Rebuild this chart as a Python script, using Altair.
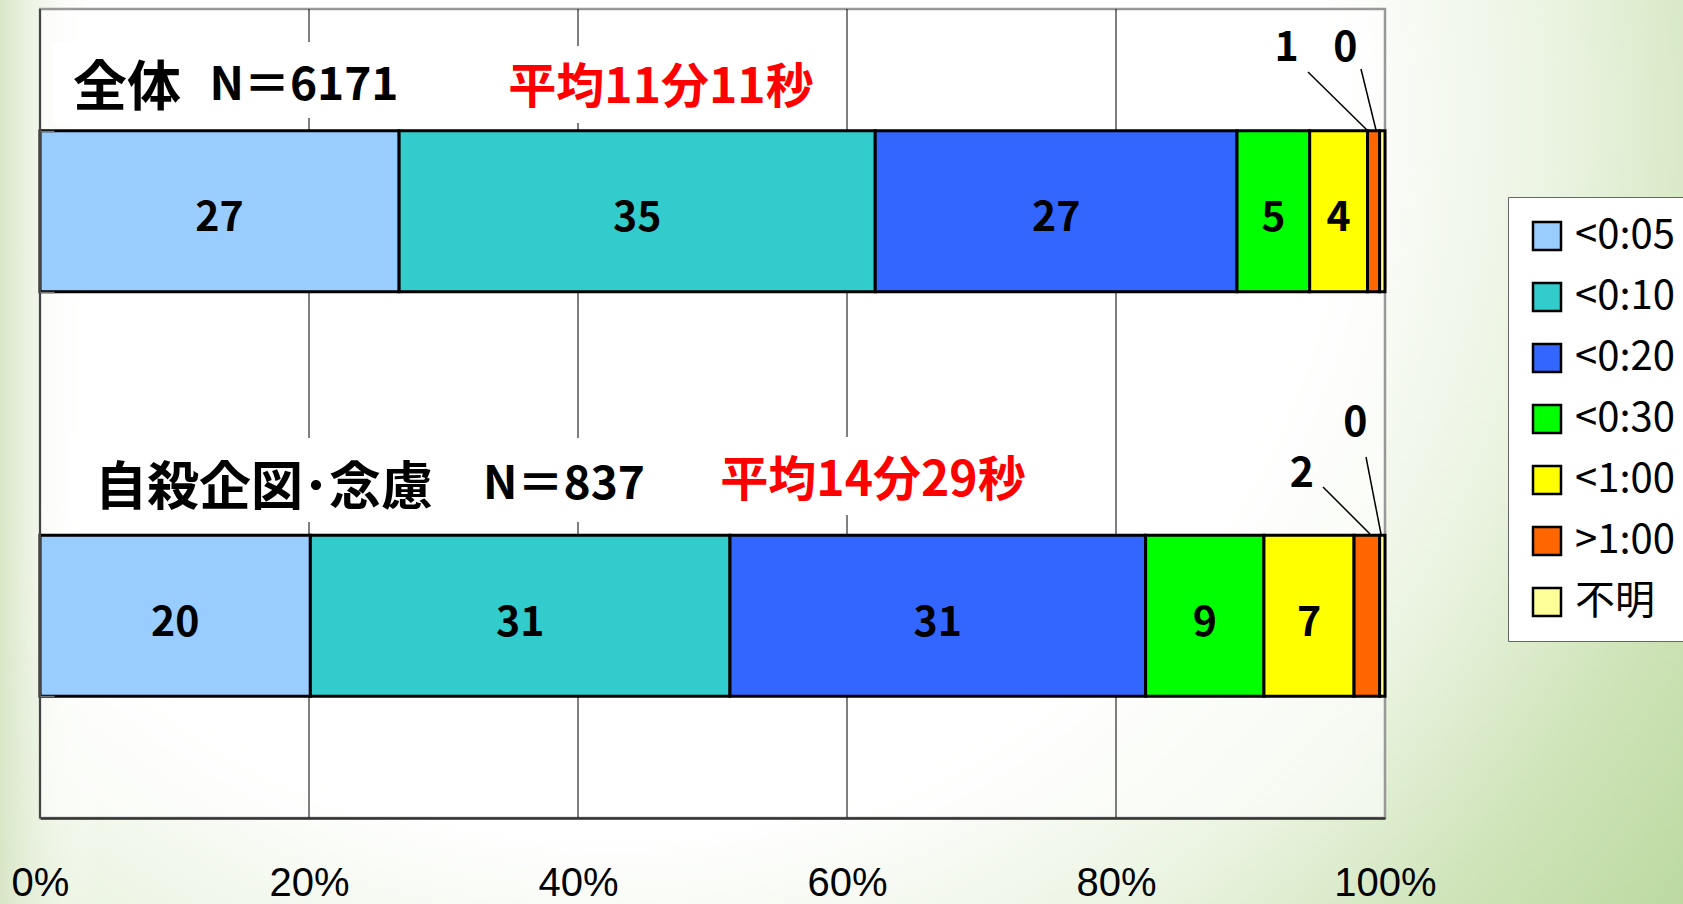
import altair as alt
import pandas as pd

# ---- data -------------------------------------------------------------
groups = ["全体", "自殺企図・念慮"]
sample_sizes = [6171, 837]
mean_times = ["平均11分11秒", "平均14分29秒"]

categories = ["<0:05", "<0:10", "<0:20", "<0:30", "<1:00", ">1:00", "不明"]
colors = ["#99CCFF", "#33CCCC", "#3366FF", "#00FF00", "#FFFF00", "#FF6600", "#FFFF99"]

# percentage share of each time band, per group
share_all = [26.7, 35.4, 26.9, 5.4, 4.3, 0.9, 0.4]
share_suicidal = [20.1, 31.2, 30.9, 8.8, 6.7, 1.9, 0.4]

pct_ticks = [0, 20, 40, 60, 80, 100]
grid_lines = [20, 40, 60, 80]

rows = []
for g, shares in zip(groups, [share_all, share_suicidal]):
    for i, (c, v) in enumerate(zip(categories, shares)):
        rows.append({"group": g, "cat": c, "idx": i, "share": v})
df = pd.DataFrame(rows)
grid_df = pd.DataFrame({"pos": grid_lines})
one = pd.DataFrame({"k": [0]})

# ---- layout -----------------------------------------------------------
W, H = 1345, 809
PAD = {"left": 40, "top": 9, "right": 298, "bottom": 86}
FONT = "Noto Sans CJK JP"
NUM_FONT = "Liberation Sans"

x_scale = alt.Scale(domain=[0, 100], nice=False, zero=True)
y_scale = alt.Scale(domain=groups, paddingInner=0.602, paddingOuter=0.301)

X_AXIS = alt.Axis(
    values=pct_ticks, labelExpr="datum.value + '%'", grid=False, ticks=False,
    tickSize=0, domain=True, domainColor="#333333", domainWidth=2.5,
    labelFont=NUM_FONT, labelFontSize=40, labelColor="black", labelPadding=45,
    labelFlush=False, labelOverlap=False, title=None, zindex=1,
)
Y_AXIS = alt.Axis(
    labels=False, domain=False, ticks=True, tickBand="extent", tickSize=14,
    tickColor="#777777", tickWidth=1.5, offset=-14, grid=False, title=None, zindex=1,
)

# ---- background -------------------------------------------------------
bg = alt.Chart(one).mark_rect(
    fill={
        "gradient": "radial",
        "x1": 0.36, "y1": 0.30, "r1": 0,
        "x2": 0.36, "y2": 0.30, "r2": 0.95,
        "stops": [
            {"offset": 0.0, "color": "#ffffff"},
            {"offset": 0.45, "color": "#ffffff"},
            {"offset": 0.6, "color": "#eaf3e0"},
            {"offset": 0.72, "color": "#cfe4b9"},
            {"offset": 0.88, "color": "#b5d597"},
            {"offset": 1.0, "color": "#a0c77f"},
        ],
    }
).encode(x=alt.value(-40), x2=alt.value(1643), y=alt.value(-9), y2=alt.value(895))

left_strip = alt.Chart(one).mark_rect(
    fill={
        "gradient": "linear", "x1": 0, "y1": 0, "x2": 1, "y2": 0,
        "stops": [
            {"offset": 0.0, "color": "#d8e6c6"},
            {"offset": 1.0, "color": "rgba(255,255,255,0)"},
        ],
    }
).encode(x=alt.value(-40), x2=alt.value(60), y=alt.value(-9), y2=alt.value(895))

plot_area = alt.Chart(one).mark_rect(
    fill="white", fillOpacity=0.6, stroke="#999999", strokeWidth=2.5
).encode(x=alt.value(0), x2=alt.value(W), y=alt.value(0), y2=alt.value(H))

grid = alt.Chart(grid_df).mark_rule(color="black", strokeWidth=1).encode(
    x=alt.X("pos:Q", scale=x_scale, axis=X_AXIS),
    y=alt.value(0), y2=alt.value(H),
)

# white boxes behind the header texts
boxes = [
    (13, 158, 33, 115), (158, 381, 33, 109), (452, 791, 37, 114),
    (30, 620, 429, 513), (660, 1000, 428, 506),
]
box_layers = [
    alt.Chart(one).mark_rect(fill="white").encode(
        x=alt.value(a), x2=alt.value(b), y=alt.value(c), y2=alt.value(d)
    )
    for a, b, c, d in boxes
]

def header(text, x, y, size, color="black"):
    return alt.Chart(one).mark_text(
        text=text, font=FONT, fontSize=size, fontWeight="bold", color=color,
        align="center", baseline="middle",
    ).encode(x=alt.value(x), y=alt.value(y))

headers = [
    header(groups[0], 87, 81, 54),
    header(f"N＝{sample_sizes[0]}", 264, 77, 46),
    header(mean_times[0], 621, 80, 48, "#FF0000"),
    header("自殺企図･念慮", 224, 480, 52),
    header(f"N＝{sample_sizes[1]}", 524, 476, 46),
    header(mean_times[1], 833, 473, 48, "#FF0000"),
]

# ---- stacked bars -----------------------------------------------------
base = alt.Chart(df).transform_stack(
    stack="share", groupby=["group"], as_=["x0", "x1"],
    sort=[alt.SortField("idx", order="ascending")],
).transform_calculate(
    mid="(datum.x0 + datum.x1) / 2",
    lbl="format(datum.share, '.0f')",
)

bars = base.mark_bar(stroke="black", strokeWidth=3).encode(
    x=alt.X("x0:Q", scale=x_scale, axis=X_AXIS),
    x2="x1:Q",
    y=alt.Y("group:N", scale=y_scale, axis=Y_AXIS),
    color=alt.Color(
        "cat:N", title=None,
        scale=alt.Scale(domain=categories, range=colors),
        legend=alt.Legend(
            orient="none", legendX=1468, legendY=188,
            symbolType="square", symbolSize=784, symbolStrokeColor="black",
            symbolStrokeWidth=2.5, symbolOpacity=1,
            labelFont=FONT, labelFontSize=40, labelColor="black", labelLimit=400,
            labelOffset=8, rowPadding=21, padding=19,
            strokeColor="#666666", fillColor="white",
        ),
    ),
    order=alt.Order("idx:Q", sort="ascending"),
)

inside_labels = base.transform_filter("datum.share >= 3").mark_text(
    font=FONT, fontSize=41, fontWeight="bold", color="black",
    align="center", baseline="middle", dy=8,
).encode(
    x=alt.X("mid:Q", scale=x_scale, axis=X_AXIS),
    y=alt.Y("group:N", scale=y_scale, axis=Y_AXIS),
    text="lbl:N",
)

# labels of the thin segments, lifted above the bar
callouts = [
    (groups[0], ">1:00", -87, -162),
    (groups[0], "不明", -37, -162),
    (groups[1], ">1:00", -65, -141),
    (groups[1], "不明", -27, -192),
]
callout_labels = [
    base.transform_filter(
        f"datum.group == '{g}' && datum.cat == '{c}'"
    ).mark_text(
        font=FONT, fontSize=41, fontWeight="bold", color="black",
        align="center", baseline="middle", dx=dx, dy=dy,
    ).encode(
        x=alt.X("mid:Q", scale=x_scale, axis=X_AXIS),
        y=alt.Y("group:N", scale=y_scale, axis=Y_AXIS),
        text="lbl:N",
    )
    for g, c, dx, dy in callouts
]

leaders = [
    (1268, 63, 1327, 121), (1321, 60, 1336, 121),
    (1283, 478, 1330, 525), (1326, 448, 1341, 525),
]
leader_layers = [
    alt.Chart(one).mark_rule(color="black", strokeWidth=1.5).encode(
        x=alt.value(a), y=alt.value(b), x2=alt.value(c), y2=alt.value(d)
    )
    for a, b, c, d in leaders
]

left_edge = alt.Chart(one).mark_rule(color="#444444", strokeWidth=2).encode(
    x=alt.value(0), y=alt.value(0), y2=alt.value(H)
)

chart = alt.layer(
    bg, left_strip, plot_area, grid, *box_layers, *headers,
    bars, inside_labels, *callout_labels, *leader_layers, left_edge,
).properties(
    width=W, height=H, padding=PAD, autosize=alt.AutoSizeParams(type="none"),
).configure(background="white").configure_view(strokeWidth=0)

chart.save("out.html", embed_options={"renderer": "svg", "actions": False})
